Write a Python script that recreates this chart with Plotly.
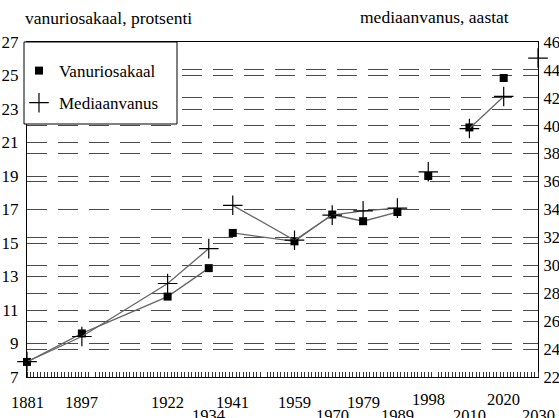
import plotly.graph_objects as go

# ---- data ----
years = [1881, 1897, 1922, 1934, 1941, 1959, 1970, 1979, 1989, 1998, 2010, 2020, 2030]
vanuriosakaal = [7.9, 9.6, 11.8, 13.5, 15.6, 15.1, 16.7, 16.3, 16.85, 19.0, 21.9, 24.85, 27.1]
vanur_segment = [1, 1, 1, 1, 2, 2, 2, 2, 2, 3, 4, 5, 6]
mediaanvanus = [23.1, 24.9, 28.7, 31.2, 34.3, 31.8, 33.6, 33.9, 34.1, 36.7, 39.8, 42.1, 44.85]
median_segment = [1, 1, 1, 1, 2, 2, 2, 2, 2, 3, 4, 4, 5]
year_labels = [str(y) for y in years]
left_ticks = list(range(7, 28, 2))
right_ticks = list(range(22, 47, 2))

# ---- style ----
FONT = "Liberation Serif"
lowered = {1934, 1970, 1989, 2010, 2030}
raised = {1998, 2020}


def with_gaps(xs, ys, segs):
    ox, oy = [], []
    for i, (x, y, s) in enumerate(zip(xs, ys, segs)):
        if i > 0 and s != segs[i - 1]:
            ox.append(None)
            oy.append(None)
        ox.append(x)
        oy.append(y)
    return ox, oy


fig = go.Figure()

lx, ly = with_gaps(years, vanuriosakaal, vanur_segment)
fig.add_trace(go.Scatter(x=lx, y=ly, mode="lines", line=dict(color="#666666", width=1.3),
                         showlegend=False, connectgaps=False, hoverinfo="skip", cliponaxis=False))
mx, my = with_gaps(years, mediaanvanus, median_segment)
fig.add_trace(go.Scatter(x=mx, y=my, mode="lines", line=dict(color="#666666", width=1.3),
                         showlegend=False, connectgaps=False, hoverinfo="skip", yaxis="y2",
                         cliponaxis=False))

fig.add_trace(go.Scatter(x=years, y=vanuriosakaal, mode="markers", name="Vanuriosakaal",
                         legendgroup="a",
                         marker=dict(symbol="square", size=8, color="black"), cliponaxis=False))
fig.add_trace(go.Scatter(x=years, y=mediaanvanus, mode="markers", name="Mediaanvanus",
                         legendgroup="b", yaxis="y2",
                         marker=dict(symbol="cross-thin", size=14,
                                     line=dict(color="black", width=1.2)), cliponaxis=False))

annotations = []
for y, lab in zip(years, year_labels):
    if y in lowered:
        ys = -38
    elif y in raised:
        ys = -22
    else:
        ys = -25
    annotations.append(dict(x=y, y=0, xref="x", yref="paper", text=lab, showarrow=False,
                            xanchor="center", yanchor="middle", yshift=ys,
                            font=dict(family=FONT, size=16.5, color="black")))
annotations.append(dict(x=0.0, y=1, xref="paper", yref="paper", xanchor="left", yanchor="middle",
                        xshift=-4, yshift=24, text="vanuriosakaal, protsenti", showarrow=False,
                        font=dict(family=FONT, size=17.5, color="black")))
annotations.append(dict(x=1.0, y=1, xref="paper", yref="paper", xanchor="right", yanchor="middle",
                        xshift=-27, yshift=25, text="mediaanvanus, aastat", showarrow=False,
                        font=dict(family=FONT, size=17.5, color="black")))

grid = dict(showgrid=True, gridcolor="#4a4a4a", gridwidth=1.4, griddash="20px,11px")

# legend frame (white box covering the gridlines)
legend_box = dict(type="rect", xref="paper", yref="paper",
                  x0=-3 / 511, x1=150 / 511, y0=1 - 82 / 335, y1=1.0,
                  fillcolor="white", line=dict(color="black", width=1), layer="above")

fig.update_layout(
    width=559, height=418,
    margin=dict(l=27, r=21, t=42, b=41, autoexpand=False),
    paper_bgcolor="white", plot_bgcolor="white",
    font=dict(family=FONT, size=17, color="black"),
    xaxis=dict(range=[1881, 2030], showline=True, linecolor="black", linewidth=1.2,
               mirror=True, showticklabels=False, showgrid=False, zeroline=False,
               automargin=False,
               ticks="", minor=dict(dtick=1, tick0=1881, ticks="inside", ticklen=5,
                                    tickcolor="#333", tickwidth=1)),
    yaxis=dict(range=[7, 27], tickvals=left_ticks, showline=True, linecolor="black",
               linewidth=1.2, zeroline=False, ticks="", ticklabelstandoff=4,
               automargin=False, tickfont=dict(family=FONT, size=17), **grid),
    yaxis2=dict(range=[22, 46], tickvals=right_ticks, overlaying="y", side="right",
                showline=True, linecolor="black", linewidth=1.2, zeroline=False,
                ticks="", ticklabelstandoff=1, automargin=False,
                tickfont=dict(family=FONT, size=16.5), **grid),
    legend=dict(x=-0.0157, y=0.967, xanchor="left", yanchor="top",
                bgcolor="rgba(0,0,0,0)", borderwidth=0,
                traceorder="grouped", tracegroupgap=7,
                font=dict(family=FONT, size=17, color="black")),
    shapes=[legend_box],
    annotations=annotations,
    showlegend=True,
)

fig.write_html("out.html", config={"displayModeBar": False},
               post_script="document.body.style.margin='0';")
